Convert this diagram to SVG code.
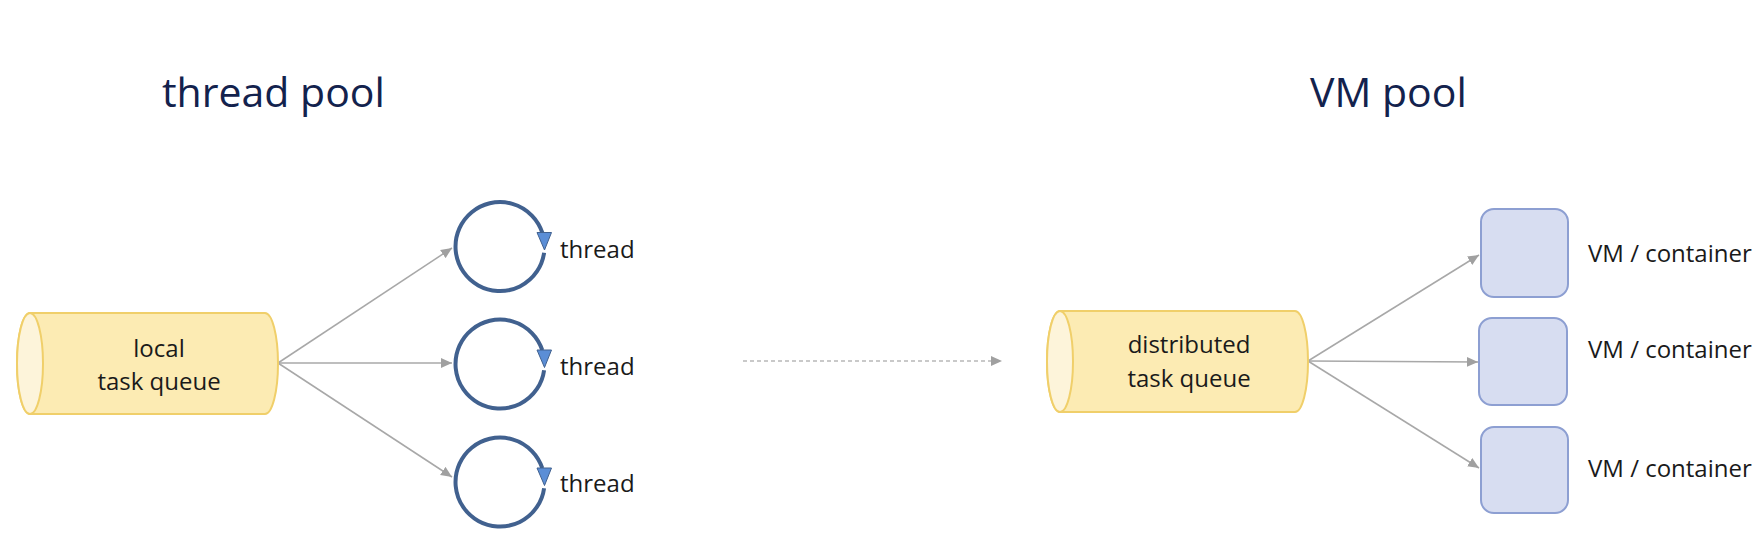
<svg xmlns="http://www.w3.org/2000/svg" width="1762" height="540" viewBox="0 0 1762 540">
<style>
.title{font-family:"Open Sans","Liberation Sans",sans-serif;font-size:41px;fill:#13224d}
.lbl{font-family:"Open Sans","Liberation Sans",sans-serif;font-size:24px;fill:#1a1a1a}
.mid{text-anchor:middle}
.cyl{fill:#fcebb3;stroke:#f0cf6a;stroke-width:2}
.cylface{fill:#fdf4da;stroke:#f0cf6a;stroke-width:2}
.vm{fill:#d7ddf1;stroke:#8d9fd2;stroke-width:2}
.conn{stroke:#a8a8a8;stroke-width:1.5;fill:none;marker-end:url(#ah)}
.dash{stroke:#b8b8b8;stroke-width:1.5;fill:none;stroke-dasharray:4 3;marker-end:url(#ah)}
</style>
<defs>
<marker id="ah" viewBox="0 0 10 10" refX="10" refY="5" markerWidth="11" markerHeight="11" markerUnits="userSpaceOnUse" orient="auto">
<path d="M0,0.5 L10,5 L0,9.5 Z" fill="#a0a0a0"/>
</marker>
<g id="loop">
<path d="M44.1,6.2 A44.5,44.5 0 1 1 42.3,-13.8" fill="none" stroke="#41618f" stroke-width="4"/>
<polygon points="37,-14 51.5,-14 44.5,3.5" fill="#5b8ed6" stroke="#41618f" stroke-width="1"/>
</g>
</defs>
<text class="title" x="162" y="107">thread pool</text>
<text class="title" x="1310" y="107">VM pool</text>
<g id="connectors">
<line class="conn" x1="278" y1="363" x2="452" y2="248"/>
<line class="conn" x1="278" y1="363" x2="452" y2="363"/>
<line class="conn" x1="278" y1="363" x2="452" y2="477"/>
<line class="dash" x1="743" y1="361" x2="1002" y2="361"/>
<line class="conn" x1="1308" y1="361" x2="1479" y2="255"/>
<line class="conn" x1="1308" y1="361" x2="1478" y2="362"/>
<line class="conn" x1="1308" y1="361" x2="1479" y2="468"/>
</g>
<g id="local-queue">
<path class="cyl" d="M30,313 H265 A13,50.5 0 0 1 265,414 H30 A13,50.5 0 0 1 30,313 Z"/>
<ellipse class="cylface" cx="30" cy="363.5" rx="13" ry="50.5"/>
<text class="lbl mid" x="159" y="357">local</text>
<text class="lbl mid" x="159" y="390">task queue</text>
</g>
<g id="thread1"><use href="#loop" transform="translate(500,246.5)"/><text class="lbl" x="560" y="258">thread</text></g>
<g id="thread2"><use href="#loop" transform="translate(500,364)"/><text class="lbl" x="560" y="375">thread</text></g>
<g id="thread3"><use href="#loop" transform="translate(500,482)"/><text class="lbl" x="560" y="492">thread</text></g>
<g id="distributed-queue">
<path class="cyl" d="M1060,311 H1295 A13,50.5 0 0 1 1295,412 H1060 A13,50.5 0 0 1 1060,311 Z"/>
<ellipse class="cylface" cx="1060" cy="361.5" rx="13" ry="50.5"/>
<text class="lbl mid" x="1189" y="353">distributed</text>
<text class="lbl mid" x="1189" y="387">task queue</text>
</g>
<g id="vm1"><rect class="vm" x="1481" y="209" width="87" height="88" rx="13"/><text class="lbl" x="1588" y="262">VM / container</text></g>
<g id="vm2"><rect class="vm" x="1479" y="318" width="88" height="87" rx="13"/><text class="lbl" x="1588" y="358">VM / container</text></g>
<g id="vm3"><rect class="vm" x="1481" y="427" width="87" height="86" rx="13"/><text class="lbl" x="1588" y="477">VM / container</text></g>
</svg>
